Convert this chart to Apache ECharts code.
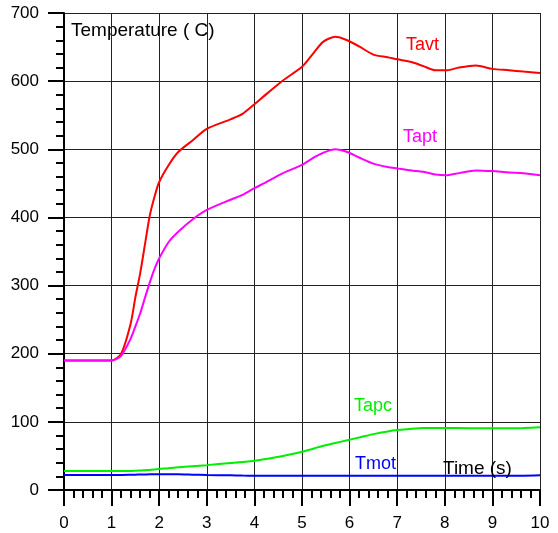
<!DOCTYPE html>
<html>
<head>
<meta charset="utf-8">
<script src="https://cdn.jsdelivr.net/npm/echarts@6/dist/echarts.min.js"></script>
<style>
html,body{margin:0;padding:0;background:#fff;}
#chart{width:558px;height:533px;}
</style>
</head>
<body>
<div id="chart"></div>
<script>
const times = [0, 0.5, 1.0, 1.2, 1.4, 1.5, 1.6, 1.7, 1.8, 1.9, 2.0, 2.2, 2.4, 2.7, 3.0, 3.5, 3.75, 4.0, 4.2, 4.6, 5.0, 5.25, 5.45, 5.7, 5.95, 6.2, 6.5, 6.8, 7.0, 7.3, 7.55, 7.8, 8.05, 8.3, 8.65, 9.0, 9.35, 9.65, 10.0];
const tavt = [190, 190, 190, 200, 244, 283, 318, 360, 402, 430, 452, 477, 496, 513, 530, 544, 552, 566, 578, 601, 621, 642, 658, 665, 660, 651, 639, 635, 632, 628, 622, 616, 616, 620, 623, 618, 616, 614, 612];
const tapt = [190, 190, 190, 197, 222, 240, 259, 282, 304, 324, 340, 364, 379, 397, 411, 426, 433, 443, 450, 465, 477, 488, 495, 500, 496, 488, 479, 474, 472, 469, 467, 463, 462, 465, 469, 468, 466, 465, 462];
const tapc = [28, 28, 28, 28, 28, 28.2, 28.5, 29, 29.5, 30, 31, 32, 33.5, 35, 36.5, 39.5, 41, 43, 45, 50, 56, 61, 65, 69, 73, 77, 82, 86, 88, 90, 91, 91, 91, 91, 90.5, 90.5, 90.5, 91, 92];
const tmot = [22, 22, 22, 22, 22.3, 22.5, 22.7, 22.8, 23, 23, 23, 23, 23, 22.5, 22, 21.5, 21.2, 21, 21, 21, 21, 21, 21, 21, 21, 21, 21, 21, 21, 21, 21, 21, 21, 21, 21, 21, 21, 21, 21.5];
const seriesNames = ['Tavt', 'Tapt', 'Tapc', 'Tmot'];
const seriesColors = ['#ff0000', '#ff00ff', '#00ee00', '#0000ff'];
const xTitle = 'Time (s)';
const yTitle = 'Temperature ( C)';

const values = [tavt, tapt, tapc, tmot];
const labelPos = [[406, 46], [403, 138], [354, 407], [355, 465]];
const FONT = 'Liberation Sans, Arial, sans-serif';

const chart = echarts.init(document.getElementById('chart'), null, {renderer: 'canvas'});
const series = values.map((vals, i) => ({
  name: seriesNames[i],
  type: 'line',
  data: times.map((t, k) => [t, vals[k]]),
  showSymbol: false,
  smooth: 0.25,
  lineStyle: {color: seriesColors[i], width: 2},
  itemStyle: {color: seriesColors[i]},
  z: i === 1 ? 6 : 5 - i,
  animation: false
}));

const graphics = seriesNames.map((n, i) => ({
  type: 'text', left: labelPos[i][0], top: labelPos[i][1] - 10,
  style: {text: n, fill: seriesColors[i], font: '18px ' + FONT}
}));
graphics.push({type: 'text', left: 71, top: 21, style: {text: yTitle, fill: '#000', font: '19px ' + FONT}});
graphics.push({type: 'text', left: 443, top: 459, style: {text: xTitle, fill: '#000', font: '19px ' + FONT}, z: 10});

chart.setOption({
  animation: false,
  backgroundColor: '#fff',
  grid: {left: 64, right: 18, top: 13, bottom: 43},
  xAxis: {
    type: 'value', min: 0, max: 10, interval: 1,
    axisLine: {show: true, onZero: false, lineStyle: {color: '#000', width: 2}},
    axisTick: {show: true, inside: false, length: 16, lineStyle: {color: '#000', width: 2}},
    minorTick: {show: true, splitNumber: 5, length: 8, lineStyle: {color: '#000', width: 2}},
    splitLine: {show: true, lineStyle: {color: '#222', width: 1}},
    axisLabel: {color: '#000', fontSize: 17, fontFamily: FONT, margin: 25}
  },
  yAxis: {
    type: 'value', min: 0, max: 700, interval: 100,
    axisLine: {show: true, lineStyle: {color: '#000', width: 2}},
    axisTick: {show: true, inside: false, length: 16, lineStyle: {color: '#000', width: 2}},
    minorTick: {show: true, splitNumber: 5, length: 8, lineStyle: {color: '#000', width: 2}},
    splitLine: {show: true, lineStyle: {color: '#222', width: 1}},
    axisLabel: {color: '#000', fontSize: 17, fontFamily: FONT, margin: 25}
  },
  series: series,
  graphic: graphics
});
</script>
</body>
</html>
